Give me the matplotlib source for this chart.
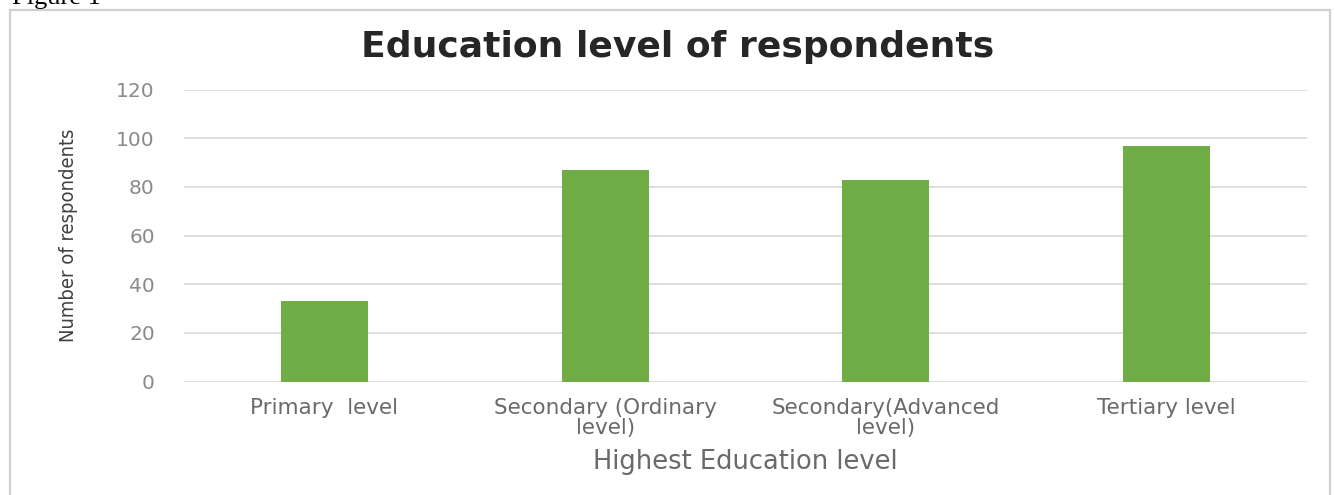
import matplotlib
matplotlib.use("Agg")
import matplotlib.pyplot as plt
from matplotlib.patches import Rectangle

categories = ["Primary  level", "Secondary (Ordinary\nlevel)",
              "Secondary(Advanced\nlevel)", "Tertiary level"]
respondents = [33, 87, 83, 97]
y_ticks = [0, 20, 40, 60, 80, 100, 120]

W, H = 1335, 495
fig = plt.figure(figsize=(W / 100, H / 100), dpi=100)
fig.patch.set_facecolor("white")

# outer chart frame
fig.patches.append(Rectangle((10 / W, -0.01), 1320 / W, (H - 10) / H + 0.01,
                             transform=fig.transFigure, fill=False,
                             edgecolor="#d0d0d0", linewidth=1.6))
fig.text(12 / W, 1 - 4 / H, "Figure 1", family=["Liberation Serif", "DejaVu Serif"],
         fontsize=19, color="black", va="baseline", ha="left")

left, right = 184 / W, 1307 / W
bottom, top = (H - 381.7) / H, (H - 89.5) / H
ax = fig.add_axes([left, bottom, right - left, top - bottom])

x = list(range(len(categories)))
ax.bar(x, respondents, width=0.31, color="#70AD47", zorder=3)
ax.set_xlim(-0.5, len(categories) - 0.5)
ax.set_ylim(0, 120)
ax.set_yticks(y_ticks)
ax.set_yticklabels([str(v) for v in y_ticks], family="DejaVu Sans", fontsize=14.5,
                   color="#8a8a8a")
ax.set_xticks(x)
ax.set_xticklabels(categories, family="DejaVu Sans", fontsize=15.5, color="#6a6a6a",
                   linespacing=1.0)
ax.tick_params(axis="both", length=0)
ax.tick_params(axis="y", pad=21)
ax.tick_params(axis="x", pad=12)
for s in ax.spines.values():
    s.set_visible(False)
ax.grid(axis="y", color="#d9d9d9", linewidth=1.2, zorder=0)
ax.set_axisbelow(True)

ax.set_ylabel("Number of respondents", family="DejaVu Sans", fontstretch="condensed",
              fontsize=14.5, color="#404040")
ax.yaxis.set_label_coords(-0.094, 0.5)
ax.set_xlabel("Highest Education level", family="DejaVu Sans", fontsize=18.5,
              color="#6a6a6a")
ax.xaxis.set_label_coords(0.5, -0.23)
ax.xaxis.label.set_va("top")

fig.text(678 / W, 1 - 47 / H, "Education level of respondents",
         family="DejaVu Sans", fontweight="bold", fontsize=26, color="#262626",
         ha="center", va="center")

fig.savefig("out.png", dpi=100)
